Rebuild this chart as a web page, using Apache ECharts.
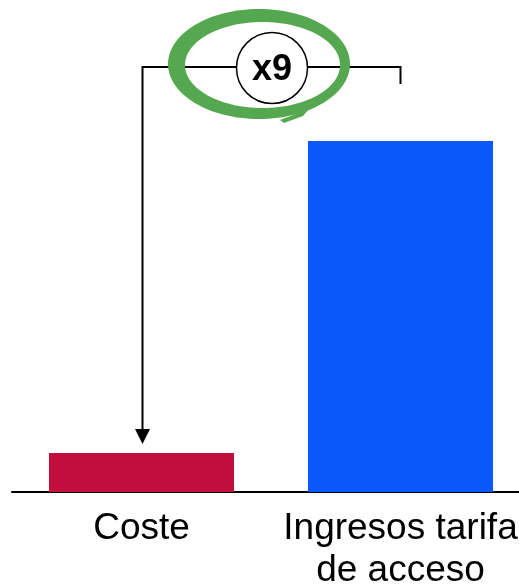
<!DOCTYPE html>
<html>
<head>
<meta charset="utf-8">
<script src="https://cdn.jsdelivr.net/npm/echarts@6/dist/echarts.min.js"></script>
<style>
html,body{margin:0;padding:0;background:#fff;}
#chart{width:519px;height:586px;}
</style>
</head>
<body>
<div id="chart"></div>
<script>
const categories = ['Coste', 'Ingresos tarifa\nde acceso'];
const values = [1, 9];
const barColors = ['#C10E3C', '#0A57FB'];
const multiplierLabel = 'x9';

const FONT = '"Liberation Sans", Arial, sans-serif';
const chart = echarts.init(document.getElementById('chart'));

chart.setOption({
  animation: false,
  backgroundColor: '#ffffff',
  grid: { left: 12, right: -11, top: 141, bottom: 94, containLabel: false, outerBoundsMode: 'none' },
  xAxis: {
    type: 'category',
    data: categories,
    axisLine: { show: true, lineStyle: { color: '#000', width: 2 } },
    axisTick: { show: false },
    axisLabel: {
      color: '#000', fontSize: 37, fontFamily: FONT, lineHeight: 42,
      margin: 16, interval: 0
    },
    splitLine: { show: false }
  },
  yAxis: {
    type: 'value', min: 0, max: 9, show: false,
    splitLine: { show: false }
  },
  series: [{
    type: 'bar',
    barWidth: 185,
    data: values.map((v, i) => ({ value: v, itemStyle: { color: barColors[i] } }))
  }]
});

// Annotation built from axis positions
const p0 = chart.convertToPixel({ seriesIndex: 0 }, [0, values[0]]);
const p1 = chart.convertToPixel({ seriesIndex: 0 }, [1, values[1]]);
const x0 = Math.round(p0[0]) + 0.5, x1 = Math.round(p1[0]) - 0.5;
const lineY = 67;
const tipY = p0[1] - 9;
const midX = 272, midY = 68;

function ellipsePts(cx, cy, rx, ry, n, reverse) {
  const pts = [];
  for (let i = 0; i <= n; i++) {
    const t = (reverse ? -1 : 1) * i / n * Math.PI * 2 + Math.PI;
    pts.push([cx + rx * Math.cos(t), cy + ry * Math.sin(t)]);
  }
  return pts;
}
const ringPts = ellipsePts(259, 64, 91, 55, 120, false).concat(ellipsePts(262.5, 65, 77.5, 43, 120, true));

chart.setOption({
  graphic: [
    { type: 'polyline', z: 10, shape: { points: [[x0, tipY - 13], [x0, lineY], [x1, lineY], [x1, 84]] },
      style: { stroke: '#000', lineWidth: 2, fill: null } },
    { type: 'polygon', z: 10, shape: { points: [[x0 - 7.5, tipY - 15], [x0 + 7.5, tipY - 15], [x0, tipY]] },
      style: { fill: '#000' } },
    { type: 'polygon', z: 11, shape: { points: ringPts },
      style: { fill: '#55A84F' } },
    { type: 'polygon', z: 11, shape: { points: [[280, 120], [309, 109], [303, 116], [284, 123]] },
      style: { fill: '#55A84F' } },
    { type: 'circle', z: 12, shape: { cx: midX, cy: midY, r: 35.5 },
      style: { fill: '#fff', stroke: '#000', lineWidth: 1.5 } },
    { type: 'text', z: 13, x: midX, y: midY + 2,
      style: { text: multiplierLabel, font: 'bold 36px ' + FONT, fill: '#000', align: 'center', verticalAlign: 'middle' } }
  ]
});
</script>
</body>
</html>
